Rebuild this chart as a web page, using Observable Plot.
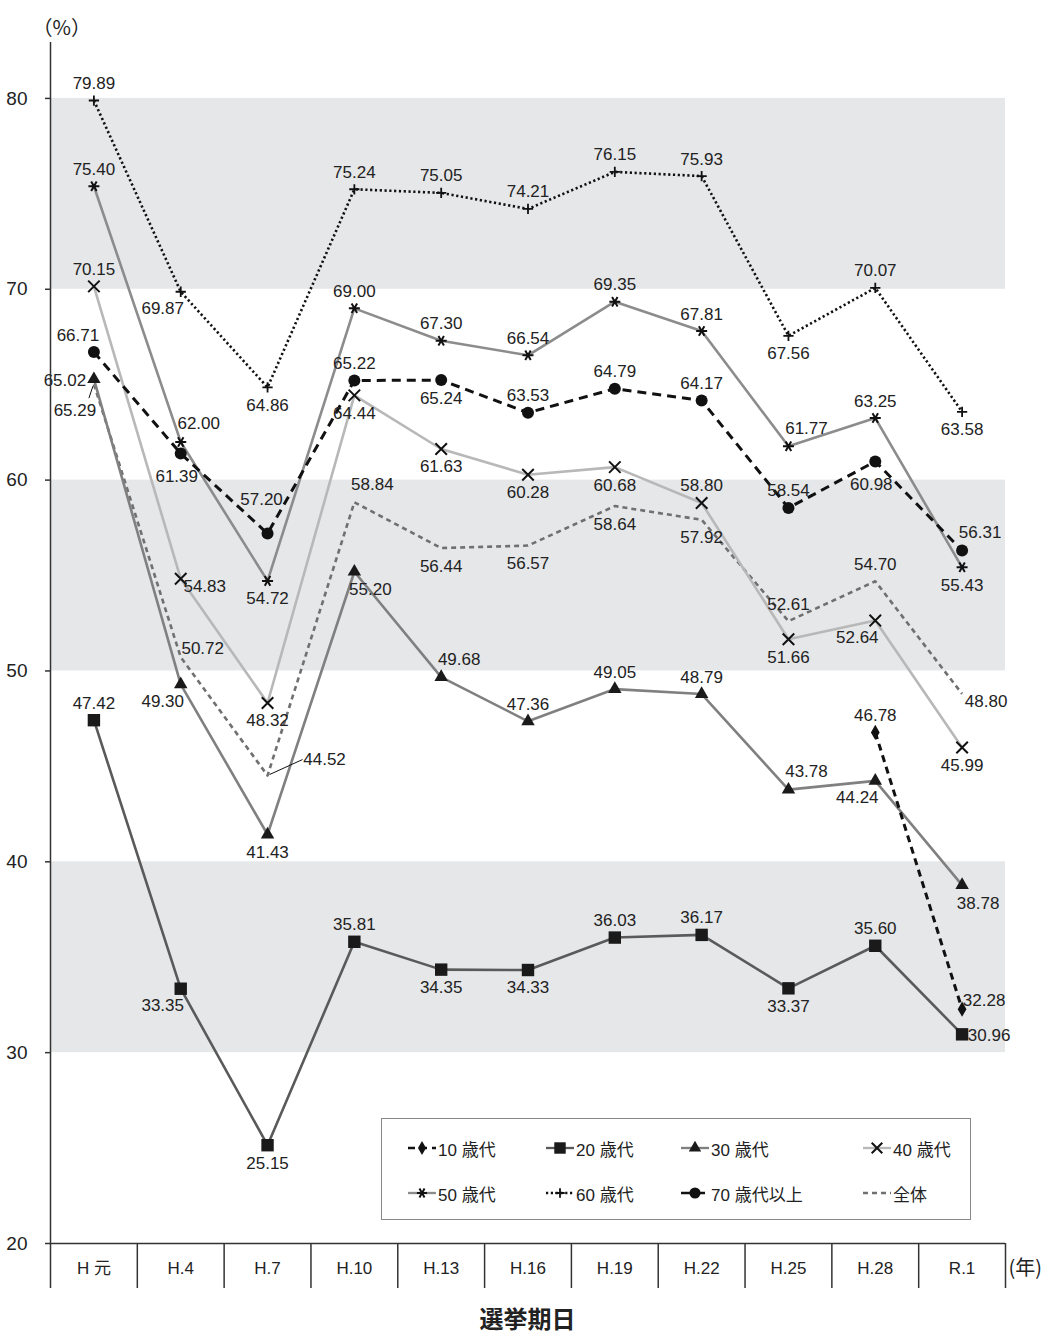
<!DOCTYPE html>
<html><head><meta charset="utf-8">
<script src="https://cdn.jsdelivr.net/npm/d3@7"></script>
<script src="https://cdn.jsdelivr.net/npm/@observablehq/plot@0.6"></script>
<style>
body{margin:0;background:#fff;font-family:"Liberation Sans",Arial,"Noto Sans CJK JP",sans-serif;}
#wrap{position:relative;width:1055px;height:1334px;overflow:hidden;}
#legend{position:absolute;left:381px;top:1118px;width:590px;height:102px;border:1.5px solid #888;box-sizing:border-box;background:#fff;}
.item{position:absolute;display:flex;align-items:center;font-size:17px;color:#222;height:24px;}
.item span{margin-left:2px;white-space:pre;}
#title{position:absolute;left:0;width:1055px;top:1300px;height:32px;line-height:32px;text-align:center;font:bold 24px "Noto Sans CJK JP",sans-serif;color:#222;}
</style></head>
<body><div id="wrap"><div id="chart"></div><div id="legend"></div><div id="title">選挙期日</div></div>
<script>
// ---- data ----
const categories = ["H 元","H.4","H.7","H.10","H.13","H.16","H.19","H.22","H.25","H.28","R.1"];
const seriesNames = ["10 歳代","20 歳代","30 歳代","40 歳代","50 歳代","60 歳代","70 歳代以上","全体"];
const age10 = [null,null,null,null,null,null,null,null,null,46.78,32.28];
const age20 = [47.42,33.35,25.15,35.81,34.35,34.33,36.03,36.17,33.37,35.60,30.96];
const age30 = [65.29,49.30,41.43,55.20,49.68,47.36,49.05,48.79,43.78,44.24,38.78];
const age40 = [70.15,54.83,48.32,64.44,61.63,60.28,60.68,58.80,51.66,52.64,45.99];
const age50 = [75.40,62.00,54.72,69.00,67.30,66.54,69.35,67.81,61.77,63.25,55.43];
const age60 = [79.89,69.87,64.86,75.24,75.05,74.21,76.15,75.93,67.56,70.07,63.58];
const age70 = [66.71,61.39,57.20,65.22,65.24,63.53,64.79,64.17,58.54,60.98,56.31];
const total = [65.02,50.72,44.52,58.84,56.44,56.57,58.64,57.92,52.61,54.70,48.80];
const yTicks = [20,30,40,50,60,70,80];
const bands = [[30,40],[50,60],[70,80]];

// ---- styling / layout ----
const values = {"10 歳代":age10,"20 歳代":age20,"30 歳代":age30,"40 歳代":age40,"50 歳代":age50,"60 歳代":age60,"70 歳代以上":age70,"全体":total};
const styles = {
  "10 歳代":   {stroke:"#111",   width:3,   dash:"7,5",   symbol:"diamond",  r:4.6, fill:"#111", sw:0},
  "20 歳代":   {stroke:"#5a5a5a",width:2.6, dash:null,    symbol:"square",   r:7,   fill:"#1a1a1a", sw:0},
  "30 歳代":   {stroke:"#808080",width:2.6, dash:null,    symbol:"triangle", r:5,   fill:"#1a1a1a", sw:0},
  "40 歳代":   {stroke:"#b8b8b8",width:2.6, dash:null,    symbol:"times",    r:5.3, fill:"none", sw:2},
  "50 歳代":   {stroke:"#8c8c8c",width:2.6, dash:null,    symbol:"asterisk", r:5.2, fill:"none", sw:2},
  "60 歳代":   {stroke:"#111",   width:2.6, dash:"2.2,2.6",symbol:"plus",    r:3.4, fill:"none", sw:1.8},
  "70 歳代以上":{stroke:"#111",  width:3,   dash:"9,6",   symbol:"circle",   r:6,   fill:"#111", sw:0},
  "全体":      {stroke:"#707070",width:2.6, dash:"5,4",   symbol:null,       r:0,   fill:"none", sw:0}
};
const place = {
  "10 歳代":   [null,null,null,null,null,null,null,null,null,"t","rt"],
  "20 歳代":   ["t","bl","b","t","b","b","t","t","b","t","r"],
  "30 歳代":   ["lead1","bl","b","br","tr","t","t","t","tr","bl","br"],
  "40 歳代":   ["t","rb","b","b","b","b","b","t","b","bl","b"],
  "50 歳代":   ["t","tr","b","t","t","t","t","t","tr","t","b"],
  "60 歳代":   ["t","bl","b","t","t","t","t","t","b","t","b"],
  "70 歳代以上":["tl","bb","tt","t","b","t","t","t","t","bb","tr"],
  "全体":      ["l","rt","lead2","tr","b","b","b","b","t","t","rb"]
};
const offsets = {t:[0,-17], b:[0,18], tr:[18,-18], tl:[-16,-17], br:[16,18], bl:[-18,17],
  r:[27,1], l:[-29,-4], rt:[22,-9], rb:[24,8], bb:[-4,23], tt:[-6,-34],
  lead1:[-19,31], lead2:[57,-16]};
const leaders = {lead1:[-1,7,-5,19], lead2:[2,-1,35,-16]};
const drawOrder = ["全体","40 歳代","30 歳代","50 歳代","20 歳代","60 歳代","70 歳代以上","10 歳代"];

const FONT = "'Liberation Sans', Arial, 'Noto Sans CJK JP', sans-serif";
const rows = [];
for (const s of seriesNames) values[s].forEach((v,i)=>{ if (v!=null) rows.push({s, i, v, p: place[s][i]}); });

// pixel -> data helpers (frame: x 50..1005 for [0,11], y 42..1243 for [20,82.93])
const Y0 = 20, Y1 = 82.93, yPx = (1243-42)/(Y1-Y0), xPx = (1005-50)/11;
const yBottom = Y0 - 45/yPx, yCat = Y0 - 25/yPx;

const marks = [];
marks.push(Plot.rect(bands, {x1:0, x2:11, y1:d=>d[0], y2:d=>d[1], fill:"#e6e7e9"}));
for (const s of drawOrder) {
  const st = styles[s];
  marks.push(Plot.line(rows.filter(d=>d.s===s), {x:d=>d.i+0.5, y:"v", stroke:st.stroke, strokeWidth:st.width,
    strokeDasharray:st.dash, strokeLinejoin:"round", strokeLinecap: st.dash ? "butt" : "round"}));
}
for (const s of drawOrder) {
  const st = styles[s];
  if (!st.symbol) continue;
  marks.push(Plot.dot(rows.filter(d=>d.s===s), {x:d=>d.i+0.5, y:"v", symbol:st.symbol, r:st.r,
    fill: st.fill, stroke: st.fill==="none" ? "#111" : "none", strokeWidth: st.sw, rotate: st.symbol==="asterisk"?90:0}));
}
// leader lines
const leadRows = rows.filter(d=>leaders[d.p]);
marks.push(Plot.link(leadRows, {
  x1:d=>d.i+0.5+leaders[d.p][0]/xPx, y1:d=>d.v-leaders[d.p][1]/yPx,
  x2:d=>d.i+0.5+leaders[d.p][2]/xPx, y2:d=>d.v-leaders[d.p][3]/yPx,
  stroke:"#111", strokeWidth:1}));
// value labels grouped by placement
for (const [code,[dx,dy]] of Object.entries(offsets)) {
  const sub = rows.filter(d=>d.p===code);
  if (!sub.length) continue;
  marks.push(Plot.text(sub, {x:d=>d.i+0.5, y:"v", text:d=>d.v.toFixed(2), dx, dy, fontSize:17, fill:"#222", fontFamily:FONT}));
}
// axes
marks.push(Plot.ruleX([0], {y1:yBottom, y2:Y1, stroke:"#333", strokeWidth:1.5}));
marks.push(Plot.ruleY([20], {x1:0, x2:11, stroke:"#333", strokeWidth:1.5}));
marks.push(Plot.ruleX(d3.range(1,12), {y1:yBottom, y2:Y0, stroke:"#333", strokeWidth:1.5}));
marks.push(Plot.axisY({ticks:yTicks, label:null, tickSize:5, tickPadding:18, fontSize:19, tickFormat:d=>String(d), stroke:"#333", strokeWidth:1.5}));
marks.push(Plot.text(categories, {x:(d,i)=>i+0.5, y:yCat, text:d=>d, fontSize:17, fill:"#222", fontFamily:FONT}));
marks.push(Plot.text(["(年)"], {x:11, y:yCat, text:d=>d, dx:3, textAnchor:"start", fontSize:20, fill:"#222", fontFamily:"'Noto Sans CJK JP', sans-serif"}));
marks.push(Plot.text(["（%）"], {frameAnchor:"top-left", text:d=>d, dx:-18, dy:-22, fontSize:20, fill:"#222", fontFamily:"'Noto Sans CJK JP', sans-serif"}));

const chart = Plot.plot({
  width:1055, height:1300,
  marginLeft:50, marginRight:50, marginTop:42, marginBottom:57,
  x:{domain:[0,11], axis:null},
  y:{domain:[Y0,Y1], axis:null},
  style:{fontFamily:FONT, background:"white", color:"#222"},
  marks
});
document.getElementById("chart").appendChild(chart);

// ---- legend ----
const symMap = {diamond:d3.symbolDiamond, square:d3.symbolSquare, triangle:d3.symbolTriangle, times:d3.symbolTimes, asterisk:d3.symbolAsterisk, plus:d3.symbolPlus, circle:d3.symbolCircle};
const legendCols = [26,164,299,481], legendRows = [17,62];
const legend = d3.select("#legend");
seriesNames.forEach((s,k)=>{
  const st = styles[s];
  const item = legend.append("div").attr("class","item")
    .style("left", legendCols[k%4]+"px").style("top", legendRows[Math.floor(k/4)]+"px");
  const w = 28;
  const svg = item.append("svg").attr("width", w).attr("height", 20);
  svg.append("line").attr("x1",0).attr("x2",w).attr("y1",10).attr("y2",10)
    .attr("stroke", st.stroke).attr("stroke-width", st.width*0.9).attr("stroke-dasharray", st.dash || null);
  if (st.symbol) {
    const size = Math.PI*st.r*st.r*0.85;
    svg.append("path").attr("d", d3.symbol(symMap[st.symbol], size)())
      .attr("transform", `translate(${w/2},10)` + (st.symbol==="asterisk"?" rotate(90)":""))
      .attr("fill", st.fill).attr("stroke", st.fill==="none"?"#111":"none").attr("stroke-width", st.sw);
  }
  item.append("span").text(s);
});
</script>
</body></html>
